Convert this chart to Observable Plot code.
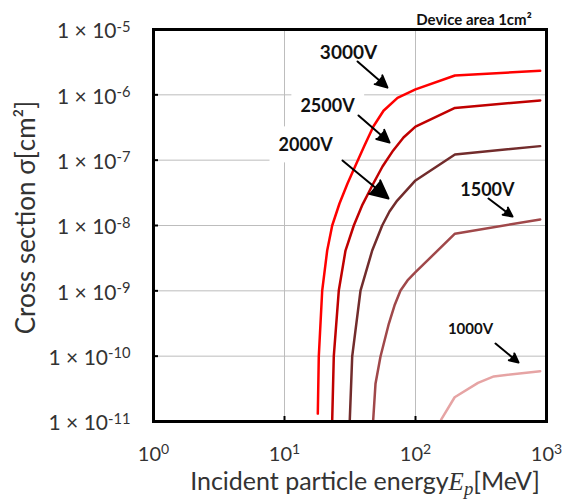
<!DOCTYPE html>
<html><head><meta charset="utf-8">
<script src="https://cdn.jsdelivr.net/npm/d3@7"></script>
<script src="https://cdn.jsdelivr.net/npm/@observablehq/plot@0.6"></script>
<style>
body{margin:0;background:#fff;}
#chart{width:563px;height:499px;}
#err{position:absolute;left:0;top:0;color:blue;font:12px monospace;}
</style></head><body><div id="chart"></div><div id="err"></div>
<script>
// ---- data ----
const voltages = ["3000V", "2500V", "2000V", "1500V", "1000V"];
const voltageColors = ["#ff0000", "#c00000", "#722c2c", "#a0484a", "#e6a4a4"];

const energy3000 = [17.96, 18.27, 19.4, 21.18, 23.13, 26.29, 30.27, 34.84, 40.8, 47.8, 57.0, 72.9, 100, 200, 895];
const sigma3000  = [1.32e-11, 9.9e-11, 1.01e-9, 4.14e-9, 1e-8, 2.17e-8, 4.39e-8, 8.28e-8, 1.68e-7, 3.3e-7, 5.7e-7, 9.0e-7, 1.21e-6, 1.98e-6, 2.33e-6];

const energy2500 = [23.13, 23.78, 25.97, 29.22, 33.81, 39.39, 47.54, 55.99, 67.6, 81.0, 100, 200, 895];
const sigma2500  = [1.06e-11, 9.9e-11, 1.01e-9, 4.14e-9, 1e-8, 2.09e-8, 4.35e-8, 8.0e-8, 1.41e-7, 2.22e-7, 3.27e-7, 6.3e-7, 8.2e-7];

const energy2000 = [31.5, 32.87, 38.04, 46.72, 55.69, 63.3, 72.5, 100, 200, 895];
const sigma2000  = [1.06e-11, 9.9e-11, 1.01e-9, 4.14e-9, 1e-8, 1.64e-8, 2.41e-8, 4.89e-8, 1.22e-7, 1.64e-7];

const energy1500 = [47.54, 49.5, 54.05, 62.55, 69.1, 76.85, 86.9, 100, 200, 895];
const sigma1500  = [1.06e-11, 3.77e-11, 9.9e-11, 3.13e-10, 5.96e-10, 1.01e-9, 1.44e-9, 1.93e-9, 7.5e-9, 1.24e-8];

const energy1000 = [157, 199, 300, 396, 895];
const sigma1000  = [1.07e-11, 2.35e-11, 3.9e-11, 4.9e-11, 5.9e-11];

const yTicks = [1e-5, 1e-6, 1e-7, 1e-8, 1e-9, 1e-10, 1e-11];
const yTickLabels = ["1 × 10^-5", "1 × 10^-6", "1 × 10^-7", "1 × 10^-8", "1 × 10^-9", "1 × 10^-10", "1 × 10^-11"];
const yGrid = [1e-6, 1e-7, 1e-8, 1e-9, 1e-10];
const xTicks = [1, 10, 100, 1000];
const xTickLabels = ["10^0", "10^1", "10^2", "10^3"];
const xGrid = [10, 100];

const labelEnergy = [30.8, 21.3, 14.5, 354, 263];
const labelSigma  = [4.44e-6, 6.62e-7, 1.67e-7, 3.44e-8, 2.56e-10];
const arrowEnergyStart = [36.1, 36.7, 27.7, 360.7, 408];
const arrowSigmaStart  = [3.24e-6, 4.83e-7, 9.9e-8, 2.59e-8, 1.56e-10];
const arrowEnergyEnd   = [61.1, 63.4, 62.2, 550, 611];
const arrowSigmaEnd    = [1.29e-6, 1.86e-7, 2.59e-8, 1.37e-8, 8.0e-11];

const noteText = "Device area 1cm²";
const yTitle = "Cross section σ[cm²]";
const xTitle = "Incident particle energy";
const xTitleSymbol = "E";
const xTitleSub = "p";
const xTitleUnit = "[MeV]";

// ---- tables ----
const series = [
  {voltage: "3000V", energy: energy3000, sigma: sigma3000},
  {voltage: "2500V", energy: energy2500, sigma: sigma2500},
  {voltage: "2000V", energy: energy2000, sigma: sigma2000},
  {voltage: "1500V", energy: energy1500, sigma: sigma1500},
  {voltage: "1000V", energy: energy1000, sigma: sigma1000}
];
const rows = series.flatMap(s => s.energy.map((e, i) => ({voltage: s.voltage, energy: e, sigma: s.sigma[i]})));
const labelRows = voltages.map((v, i) => ({text: v, energy: labelEnergy[i], sigma: labelSigma[i]}));
const arrowRows = voltages.map((v, i) => ({x1: arrowEnergyStart[i], y1: arrowSigmaStart[i], x2: arrowEnergyEnd[i], y2: arrowSigmaEnd[i]}));
const labelFontSize = {"3000V": 19, "2500V": 18, "2000V": 18, "1500V": 18, "1000V": 15};

const font = "Lato, 'Open Sans', sans-serif";

try {
const plot = Plot.plot({
  width: 563, height: 499,
  marginTop: 29, marginLeft: 153, marginRight: 17, marginBottom: 78,
  style: {fontFamily: font, background: "white", color: "#222"},
  x: {type: "log", domain: [1, 1000]},
  y: {type: "log", domain: [1e-11, 1e-5]},
  color: {domain: voltages, range: voltageColors},
  marks: [
    Plot.ruleX(xGrid, {stroke: "#bdbdbd", strokeWidth: 1}),
    Plot.ruleY(yGrid, {stroke: "#bdbdbd", strokeWidth: 1}),
    Plot.line(rows, {x: "energy", y: "sigma", z: "voltage", stroke: "voltage", strokeWidth: 2.5, strokeLinejoin: "round", ariaDescription: "curves"}),
    Plot.arrow(arrowRows, {x1: "x1", y1: "y1", x2: "x2", y2: "y2", stroke: "black", fill: "black", strokeWidth: 2, headLength: 15, headAngle: 52}),
    Plot.text(labelRows, {x: "energy", y: "sigma", text: "text", fontWeight: "bold", fill: "#111",
      fontSize: d => labelFontSize[d.text], ariaDescription: "series-label"}),
    Plot.axisY(yTicks, {anchor: "left", tickSize: 0, tickPadding: 23, fontSize: 21, label: null, dy: 2, fill: "#333",
      tickFormat: d => yTickLabels[yTicks.indexOf(d)]}),
    Plot.axisY(yTicks.slice(1, -1), {anchor: "left", tickSize: 5, dx: 5, text: null, label: null, strokeWidth: 2, stroke: "black"}),
    Plot.axisX(xTicks, {anchor: "bottom", tickSize: 0, tickPadding: 25, fontSize: 20, label: null, fill: "#333",
      tickFormat: d => xTickLabels[xTicks.indexOf(d)]}),
    Plot.axisX(xGrid, {anchor: "bottom", tickSize: 5, dy: -5, text: null, label: null, strokeWidth: 2, stroke: "black"}),
    Plot.frame({stroke: "black", strokeWidth: 3}),
    Plot.text([noteText], {frameAnchor: "top", dx: 124, dy: -15, fontSize: 15, fontWeight: "bold", fill: "#111"}),
    Plot.text([yTitle], {frameAnchor: "left", textAnchor: "middle", lineAnchor: "middle", rotate: -90, dx: -127, dy: -8, fontSize: 26, fill: "#333"}),
    Plot.text([xTitle], {frameAnchor: "bottom", textAnchor: "middle", lineAnchor: "middle", dx: 15, dy: 60, fontSize: 25, fill: "#333", ariaDescription: "x-title"})
  ]
});
document.getElementById("chart").appendChild(plot);

// ---- post-processing: superscripts, math title, label boxes ----
const NS = "http://www.w3.org/2000/svg";
function tspan(parent, text, attrs) {
  const t = document.createElementNS(NS, "tspan");
  t.textContent = text;
  for (const k in (attrs || {})) t.setAttribute(k, attrs[k]);
  parent.appendChild(t);
  return t;
}
d3.select(plot).selectAll('g[aria-label="y-axis tick label"] text, g[aria-label="x-axis tick label"] text').each(function() {
  const s = this.textContent;
  const k = s.indexOf("^");
  if (k < 0) return;
  this.textContent = "";
  tspan(this, s.slice(0, k));
  tspan(this, s.slice(k + 1), {dy: "-0.45em", "font-size": "70%"});
});
d3.select(plot).selectAll('g[aria-description="x-title"] text').each(function() {
  this.textContent = "";
  tspan(this, xTitle);
  tspan(this, xTitleSymbol, {"font-family": "'Liberation Serif', serif", "font-style": "italic"});
  tspan(this, xTitleSub, {"font-family": "'Liberation Serif', serif", "font-style": "italic", "font-size": "75%", dy: "0.3em"});
  tspan(this, xTitleUnit, {dy: "-0.22em"});
});
// white boxes behind the series labels, placed under the curves
const svgRect = plot.getBoundingClientRect();
const curves = plot.querySelector('g[aria-description="curves"]');
const boxes = document.createElementNS(NS, "g");
if (curves && curves.parentNode) curves.parentNode.insertBefore(boxes, curves);
plot.querySelectorAll('g[aria-description="series-label"] text').forEach(t => {
  const r = t.getBoundingClientRect();
  const rect = document.createElementNS(NS, "rect");
  rect.setAttribute("x", r.left - svgRect.left - 9);
  rect.setAttribute("y", r.top - svgRect.top - 7);
  rect.setAttribute("width", r.width + 18);
  rect.setAttribute("height", r.height + 14);
  rect.setAttribute("fill", "white");
  boxes.appendChild(rect);
});
} catch (e) {
  document.getElementById("err").textContent = String(e);
}
</script></body></html>
